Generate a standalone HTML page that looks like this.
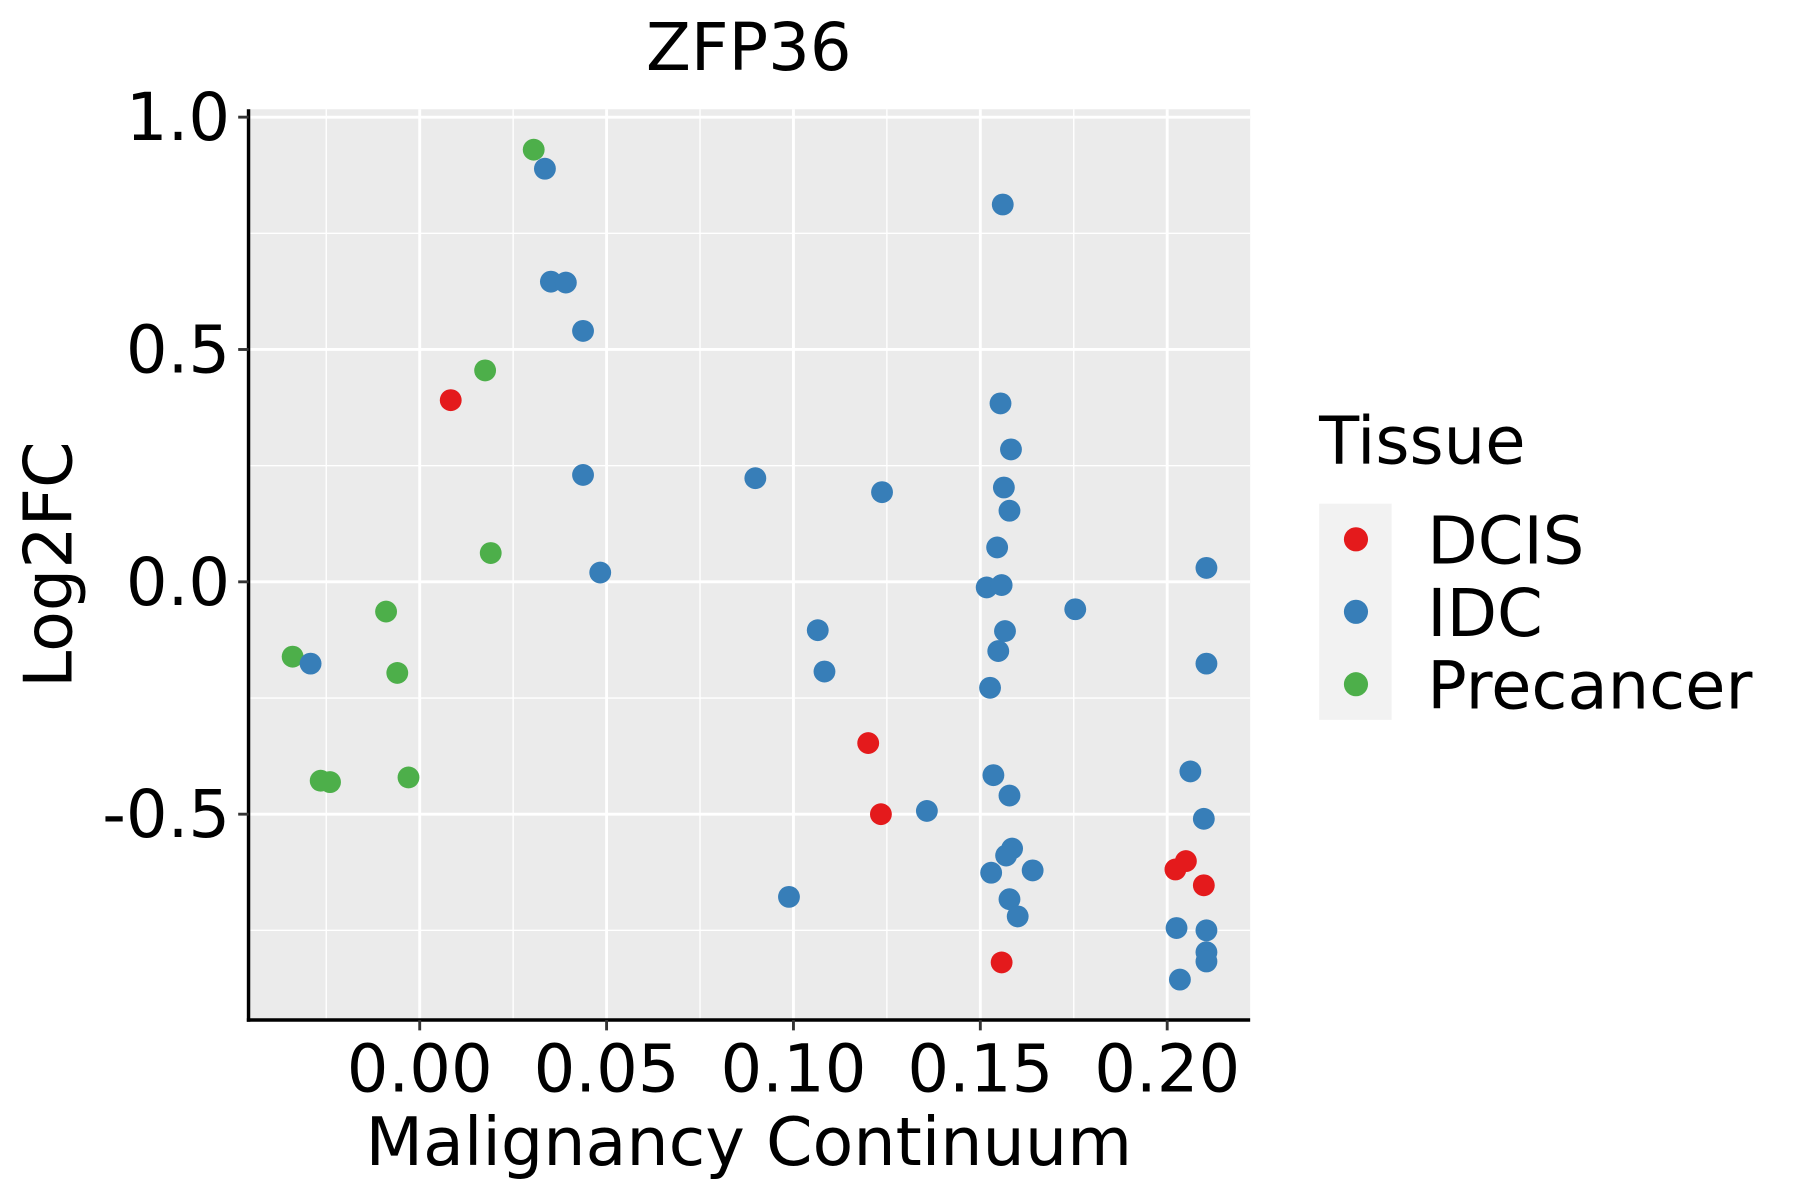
<!DOCTYPE html>
<html><head><meta charset="utf-8"><style>
html,body{margin:0;padding:0;background:#fff;}
svg{display:block;font-family:"DejaVu Sans","Liberation Sans",sans-serif;}
</style></head><body>
<svg id="chart" width="1800" height="1200" viewBox="0 0 1565 1043.5" xmlns="http://www.w3.org/2000/svg"></svg>
<script>
const dcisX = [0.0083,0.120,0.1234,0.1557,0.2022,0.205,0.2098];
const dcisY = [0.391,-0.347,-0.500,-0.819,-0.619,-0.601,-0.653];
const idcX = [0.0335,0.156,0.0351,0.0391,0.0437,-0.0292,0.0437,0.0483,0.0898,0.1237,0.1554,0.1582,0.1563,0.1578,0.1545,0.1517,0.1557,0.1566,0.1548,0.1526,0.1754,0.1065,0.1083,0.2105,0.2105,0.1535,0.1578,0.1357,0.2062,0.2098,0.1585,0.1569,0.1529,0.164,0.1578,0.160,0.0988,0.2025,0.2105,0.2105,0.2105,0.2034];
const idcY = [0.889,0.812,0.646,0.644,0.540,-0.176,0.230,0.020,0.223,0.193,0.384,0.285,0.203,0.153,0.074,-0.012,-0.007,-0.106,-0.149,-0.228,-0.059,-0.104,-0.193,0.030,-0.176,-0.416,-0.460,-0.493,-0.408,-0.510,-0.574,-0.589,-0.626,-0.621,-0.683,-0.720,-0.678,-0.745,-0.750,-0.797,-0.817,-0.856];
const preX = [0.0305,0.0175,0.019,-0.009,-0.006,-0.034,-0.0265,-0.024,-0.003];
const preY = [0.930,0.455,0.062,-0.064,-0.196,-0.161,-0.428,-0.431,-0.421];
const xTicks = [0,0.05,0.10,0.15,0.20];
const xTickLabels = ["0.00","0.05","0.10","0.15","0.20"];
const yTicks = [1.0,0.5,0.0,-0.5];
const yTickLabels = ["1.0","0.5","0.0","-0.5"];
const xMinor = [-0.025,0.025,0.075,0.125,0.175];
const yMinor = [0.75,0.25,-0.25,-0.75];

const L=216,R=1087,T=95,B=887;
const xMin=-0.0458,xMax=0.2222,yMin=-0.943,yMax=1.017;
const sx=v=>L+(v-xMin)/(xMax-xMin)*(R-L);
const sy=v=>B-(v-yMin)/(yMax-yMin)*(B-T);
const svg=document.getElementById('chart');
const NS='http://www.w3.org/2000/svg';
function mk(tag,attrs,parent){const e=document.createElementNS(NS,tag);for(const k in attrs)e.setAttribute(k,attrs[k]);(parent||svg).appendChild(e);return e;}

let el=mk('rect',{x:L,y:T,width:R-L,height:B-T,fill:'#ebebeb'});


xMinor.forEach(v=>{const g=mk('line',{x1:sx(v),x2:sx(v),y1:T,y2:B,stroke:'#fff','stroke-width':1.2});

});
yMinor.forEach(v=>{const g=mk('line',{x1:L,x2:R,y1:sy(v),y2:sy(v),stroke:'#fff','stroke-width':1.2});

});
xTicks.forEach(v=>{const g=mk('line',{x1:sx(v),x2:sx(v),y1:T,y2:B,stroke:'#fff','stroke-width':2.5});

});
yTicks.forEach(v=>{const g=mk('line',{x1:L,x2:R,y1:sy(v),y2:sy(v),stroke:'#fff','stroke-width':2.5});

});

function pts(xs,ys,color,name){xs.forEach((x,i)=>{const c=mk('circle',{cx:sx(x),cy:sy(ys[i]),r:9.5,fill:color});

});}
pts(preX,preY,'#4daf4a','point-precancer');
pts(idcX,idcY,'#377eb8','point-idc');
pts(dcisX,dcisY,'#e41a1c','point-dcis');

el=mk('line',{x1:L,x2:L,y1:T,y2:B+1.5,stroke:'#000','stroke-width':3});


el=mk('line',{x1:L-1.5,x2:R,y1:B,y2:B,stroke:'#000','stroke-width':3});



yTicks.forEach((v,i)=>{
 const t=mk('line',{x1:L-9,x2:L,y1:sy(v),y2:sy(v),stroke:'#333','stroke-width':2.5});
 
 
 const tx=mk('text',{x:L-16,y:sy(v)+20,'text-anchor':'end','font-size':57,fill:'#000'});
 tx.textContent=yTickLabels[i];
 
 
});
xTicks.forEach((v,i)=>{
 const t=mk('line',{x1:sx(v),x2:sx(v),y1:B,y2:B+9,stroke:'#333','stroke-width':2.5});
 
 
 const tx=mk('text',{x:sx(v),y:B+62,'text-anchor':'middle','font-size':57,fill:'#000'});
 tx.textContent=xTickLabels[i];
 
 
});
</script>
<script>
(function(){
const svg=document.getElementById('chart');const NS='http://www.w3.org/2000/svg';
function mk(tag,attrs){const e=document.createElementNS(NS,tag);for(const k in attrs)e.setAttribute(k,attrs[k]);svg.appendChild(e);return e;}
let e=mk('text',{x:651,y:61,'text-anchor':'middle','font-size':57});e.textContent='ZFP36';


e=mk('text',{x:651,y:1013,'text-anchor':'middle','font-size':58});e.textContent='Malignancy Continuum';


e=mk('text',{x:0,y:0,'text-anchor':'middle','font-size':58,transform:'translate(62,491) rotate(-90)'});e.textContent='Log2FC';


e=mk('text',{x:1147,y:403,'font-size':57});e.textContent='Tissue';


e=mk('rect',{x:1147,y:438,width:63,height:188,fill:'#f2f2f2'});


const labs=['DCIS','IDC','Precancer'],cols=['#e41a1c','#377eb8','#4daf4a'],ys=[469,532,595];
labs.forEach((l,i)=>{
 const c=mk('circle',{cx:1179,cy:ys[i],r:10.5,fill:cols[i]});
 
 
 const t=mk('text',{x:1241,y:ys[i]+21,'font-size':57});t.textContent=l;
 
 
});
})();
</script>
</body></html>
